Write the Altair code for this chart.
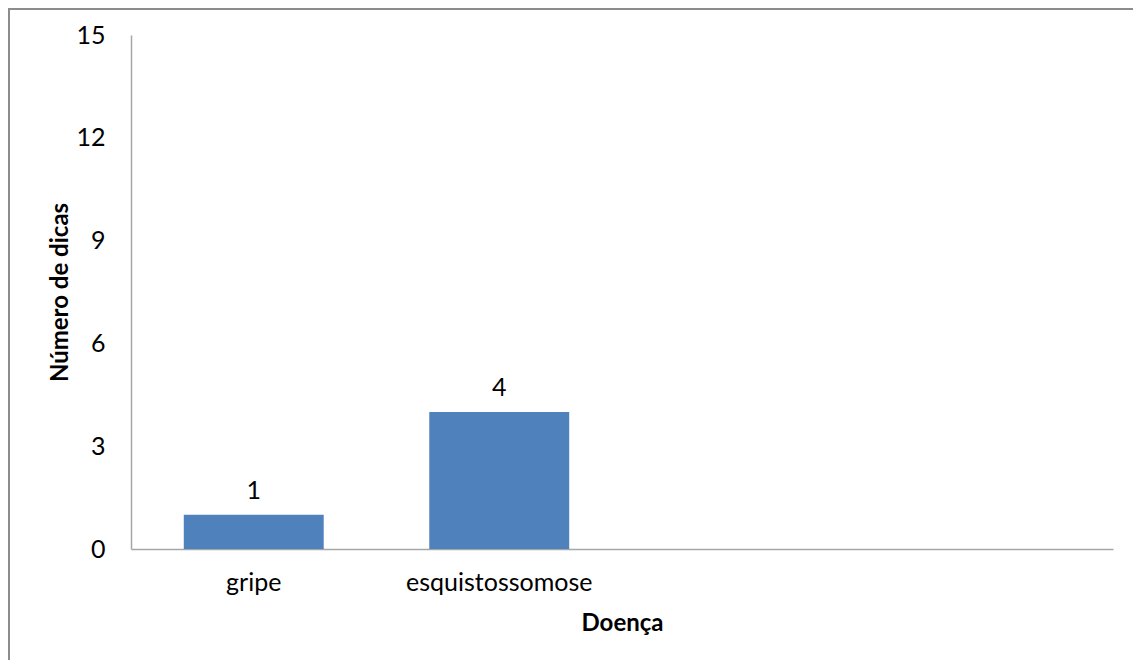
import altair as alt
import pandas as pd

categories = ["gripe", "esquistossomose", " ", "  "]
bar_categories = ["gripe", "esquistossomose"]
values = [1, 4]
y_ticks = [0, 3, 6, 9, 12, 15]

df = pd.DataFrame({"Doença": bar_categories, "n": values})

FONT = "Lato"
W, H = 982, 514
PAD = {"left": 123, "top": 27, "right": 20, "bottom": 111}

x = alt.X("Doença:N", scale=alt.Scale(domain=categories, paddingInner=0.43, paddingOuter=0.215),
          axis=alt.Axis(title="Doença", labelAngle=0, ticks=False, labelPadding=21,
                        labelLimit=0,
                        domainColor="#A6A6A6", domainWidth=1.5, labelFontSize=25,
                        labelFont=FONT, labelColor="#000", titleFont=FONT, titleFontSize=24,
                        titleFontWeight="bold", titleColor="#000", titlePadding=16))
y = alt.Y("n:Q", scale=alt.Scale(domain=[0, 15]),
          axis=alt.Axis(title="Número de dicas", values=y_ticks, grid=False, ticks=False,
                        labelPadding=26, domainColor="#A6A6A6", domainWidth=1.5,
                        labelFontSize=25, labelFont=FONT, labelColor="#000",
                        titleFont=FONT, titleFontSize=24, titleFontWeight="bold",
                        titleColor="#000", titlePadding=3))

bars = alt.Chart(df).mark_bar(color="#4F81BD").encode(x=x, y=y)
labels = alt.Chart(df).mark_text(font=FONT, fontSize=25, baseline="alphabetic", dy=-16,
                                 color="#000").encode(x=x, y=y, text="n:Q")

border_top = alt.Chart(df).mark_rule(color="#8C8C8C", strokeWidth=2).encode(
    x=alt.value(-PAD["left"]), x2=alt.value(W + PAD["right"]),
    y=alt.value(-PAD["top"] + 1))
border_left = alt.Chart(df).mark_rule(color="#8C8C8C", strokeWidth=2).encode(
    x=alt.value(-PAD["left"] + 1), y=alt.value(-PAD["top"]),
    y2=alt.value(H + PAD["bottom"]))

chart = alt.layer(bars, labels, border_top, border_left).properties(
    width=W, height=H, autosize=alt.AutoSizeParams(type="none"), padding=PAD,
    background="white"
).configure_view(strokeWidth=0, stroke="transparent")

chart.save("out.html", embed_options={"renderer": "svg", "actions": False})
